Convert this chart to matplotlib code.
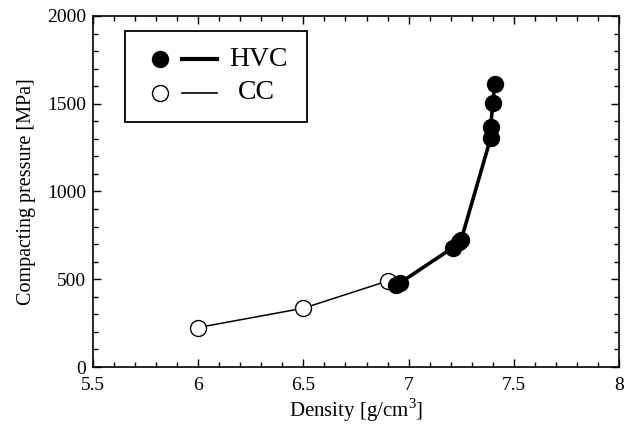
import matplotlib
matplotlib.use("Agg")
import matplotlib.pyplot as plt
from matplotlib.patches import Rectangle
from matplotlib.ticker import MultipleLocator

plt.rcParams["font.family"] = ["Liberation Serif", "DejaVu Serif"]
plt.rcParams["mathtext.fontset"] = "custom"
plt.rcParams["mathtext.rm"] = "Liberation Serif"

# conventional compaction (open circles)
cc_density = [6.0, 6.5, 6.9]
cc_pressure = [225, 335, 490]

# high velocity compaction (filled circles)
hvc_density = [6.94, 6.96, 7.21, 7.24, 7.25, 7.39, 7.39, 7.40, 7.41]
hvc_pressure = [470, 480, 680, 710, 725, 1305, 1365, 1505, 1610]

x_ticks = [5.5, 6, 6.5, 7, 7.5, 8]
x_ticklabels = ["5.5", "6", "6.5", "7", "7.5", "8"]
y_ticks = [0, 500, 1000, 1500, 2000]

fig = plt.figure(figsize=(6.29, 4.25), dpi=100)
ax = fig.add_axes([93 / 629, 1 - 367 / 425, 526 / 629, 351 / 425])

ax.plot(cc_density, cc_pressure, "-o", color="black", lw=1.1,
        mfc="white", mec="black", mew=1.0, ms=11.5, zorder=3)
ax.plot(hvc_density, hvc_pressure, "-o", color="black", lw=2.6,
        mfc="black", mec="black", ms=11.5, zorder=4)

ax.set_xlim(5.5, 8)
ax.set_ylim(0, 2000)
ax.set_xticks(x_ticks)
ax.set_xticklabels(x_ticklabels)
ax.set_yticks(y_ticks)
ax.xaxis.set_minor_locator(MultipleLocator(0.1))
ax.yaxis.set_minor_locator(MultipleLocator(100))
ax.tick_params(which="both", direction="in", top=True, right=True,
               labelsize=14, width=1.0)
ax.tick_params(which="major", length=6)
ax.tick_params(which="minor", length=3.5)
ax.tick_params(axis="x", pad=7)
ax.tick_params(axis="y", pad=5)
for s in ax.spines.values():
    s.set_linewidth(1.2)

ax.set_xlabel("Density [g/cm$^3$]", fontsize=15, labelpad=2)
ax.set_ylabel("Compacting pressure [MPa]", fontsize=14.5, labelpad=8)

# hand-drawn legend box: marker, then a separate line segment, then the label
ax.add_patch(Rectangle((0.061, 0.698), 0.346, 0.259, transform=ax.transAxes,
                       fill=False, lw=1.3, ec="black", zorder=5))
ax.plot([0.127], [0.877], "o", color="black", ms=11.5,
        transform=ax.transAxes, clip_on=False, zorder=6)
ax.plot([0.169, 0.236], [0.877, 0.877], "-", color="black", lw=3,
        transform=ax.transAxes, clip_on=False, zorder=6)
ax.text(0.258, 0.877, "HVC", fontsize=20, va="center", ha="left",
        transform=ax.transAxes, zorder=6)
ax.plot([0.127], [0.781], "o", mfc="white", mec="black", mew=1.0, ms=11.5,
        transform=ax.transAxes, clip_on=False, zorder=6)
ax.plot([0.169, 0.236], [0.781, 0.781], "-", color="black", lw=1.2,
        transform=ax.transAxes, clip_on=False, zorder=6)
ax.text(0.275, 0.781, "CC", fontsize=20, va="center", ha="left",
        transform=ax.transAxes, zorder=6)

fig.savefig("out.png", dpi=100)
